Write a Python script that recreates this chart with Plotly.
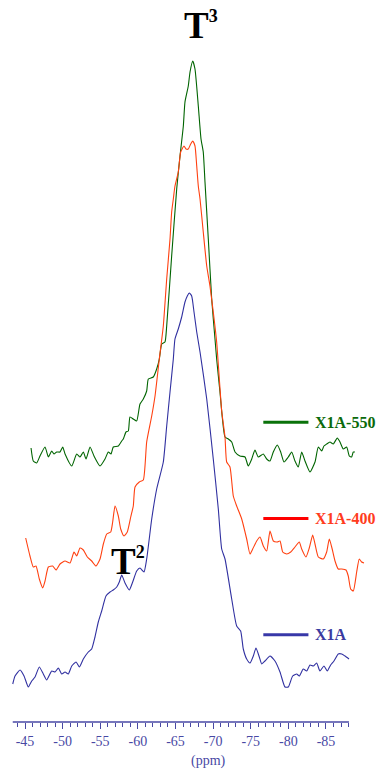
import plotly.graph_objects as go

# ---- data (chemical shift in ppm, intensity in arbitrary units) ----
ppm_550 = [-45.80, -46.10, -46.55, -46.99, -47.66, -48.10, -48.55, -48.85, -49.21, -49.65,
           -50.01, -50.32, -51.21, -51.87, -52.31, -52.75, -53.11, -53.64, -54.17, -54.97,
           -55.63, -56.07, -56.43, -56.73, -57.40, -57.85, -58.06, -58.42, -58.73, -58.95,
           -59.39, -59.84, -60.28, -60.72, -61.17, -61.39, -62.05, -62.50, -62.85, -63.17,
           -63.60, -63.83, -64.49, -65.16, -65.60, -66.04, -66.26, -66.70, -66.93, -67.29,
           -67.59, -68.03, -68.39, -68.69, -68.92, -69.36, -69.81, -70.25, -70.47, -70.91,
           -71.58, -72.02, -72.47, -72.91, -73.57, -74.24, -74.67, -75.13, -75.56, -76.00,
           -76.67, -77.12, -77.56, -78.00, -78.53, -78.98, -79.42, -79.99, -80.44, -80.88,
           -81.32, -81.77, -82.21, -82.87, -83.54, -83.98, -84.43, -84.73, -85.09, -85.53,
           -85.97, -86.50, -86.86, -87.30, -87.75, -88.10, -88.41, -88.63, -88.85]
int_550 = [4, -9, -11, -4, 5, -5, 1, -2, 0, 0,
           5, -2, -14, -2, -5, 0, -7, 5, -4, -14,
           -7, 0, -2, 5, 6, 11, 13, 20, 21, 35,
           33, 31, 48, 53, 61, 73, 75, 83, 93, 108,
           110, 126, 196, 263, 296, 326, 350, 366, 380, 391,
           383, 346, 313, 300, 270, 213, 153, 113, 93, 60,
           15, 13, 10, 0, -4, -5, -14, -7, 2, -5,
           -2, -7, -9, 0, 7, 0, -10, -5, 0, -9,
           -15, 0, -9, -20, -10, 5, 1, 6, 8, 10,
           8, 14, 10, 3, 5, -4, -5, 0, 0]

ppm_400 = [-45.09, -45.66, -46.10, -46.46, -46.90, -47.35, -47.66, -48.10, -48.68, -49.12,
           -49.65, -50.32, -50.98, -51.51, -51.87, -52.31, -52.75, -53.28, -53.86, -54.44,
           -54.97, -55.41, -55.86, -56.39, -56.65, -56.96, -57.40, -57.72, -58.16, -58.59,
           -59.05, -59.39, -59.62, -60.19, -60.72, -61.17, -61.84, -62.28, -62.85, -63.38,
           -63.83, -64.27, -64.49, -64.71, -64.93, -65.37, -65.69, -66.13, -66.40, -66.70,
           -67.02, -67.29, -67.59, -67.82, -68.03, -68.26, -68.69, -69.15, -69.58, -70.02,
           -70.47, -71.14, -71.58, -71.80, -72.24, -72.68, -73.13, -73.80, -74.46, -74.90,
           -75.26, -75.79, -76.23, -76.67, -77.12, -77.56, -78.00, -78.53, -78.89, -79.25,
           -79.78, -80.31, -80.88, -81.45, -81.77, -82.34, -82.78, -83.23, -83.54, -83.98,
           -84.64, -85.09, -85.44, -85.76, -86.20, -86.63, -87.09, -87.66, -87.96, -88.28,
           -88.63, -89.08, -89.42, -89.74, -90.05]
int_400 = [24, 6, -5, -4, -17, -26, -19, -5, -4, -8,
           -2, 1, -1, 10, 6, 14, 12, 5, 1, -4,
           3, 18, 28, 30, 40, 56, 46, 33, 26, 30,
           45, 56, 75, 80, 82, 120, 146, 166, 203, 236,
           283, 323, 350, 363, 376, 390, 410, 416, 413, 413,
           418, 421, 416, 396, 376, 363, 330, 296, 276, 250,
           220, 151, 125, 100, 95, 66, 56, 43, 23, 8,
           13, 21, 25, 16, 11, 31, 21, 20, 21, 10,
           8, 10, 15, 20, 13, 5, 14, 27, 18, 5,
           3, 10, 23, 15, 1, -7, -7, -8, -14, -27,
           -29, -10, 3, 0, -1]

ppm_x1a = [-43.37, -43.67, -44.34, -44.87, -45.44, -45.89, -46.33, -46.90, -47.43, -47.88,
           -48.55, -48.99, -49.43, -49.88, -50.32, -50.75, -51.21, -51.78, -52.22, -52.75,
           -53.41, -53.86, -54.30, -54.74, -55.19, -55.76, -56.30, -56.73, -57.19, -57.53,
           -57.85, -58.29, -58.86, -59.31, -59.84, -60.28, -60.81, -61.17, -61.84, -62.50,
           -63.38, -63.83, -64.27, -64.71, -64.93, -65.37, -65.82, -66.26, -66.57, -66.83,
           -67.15, -67.46, -67.82, -68.26, -69.15, -70.02, -70.69, -71.14, -71.58, -72.47,
           -73.13, -73.66, -74.01, -74.46, -74.90, -75.34, -75.70, -76.14, -76.46, -76.89,
           -77.56, -78.22, -78.89, -79.55, -79.99, -80.57, -81.11, -81.45, -81.98, -82.44,
           -82.87, -83.31, -83.76, -84.20, -84.73, -85.17, -85.62, -86.06, -86.63, -87.09,
           -87.52, -88.06]
int_x1a = [-2, 6, 12, 6, -5, 1, 5, 15, 8, 2,
           11, 10, 14, 8, 10, 8, 16, 20, 15, 23,
           30, 33, 45, 60, 71, 86, 90, 92, 95, 100,
           107, 99, 92, 100, 111, 114, 110, 123, 163, 193,
           220, 256, 290, 323, 343, 353, 365, 380, 386, 389,
           386, 370, 350, 330, 283, 223, 173, 133, 123, 83,
           56, 51, 33, 23, 19, 26, 34, 25, 18, 21,
           26, 21, 10, -5, -5, 6, 8, 6, 13, 11,
           17, 16, 19, 11, 16, 11, 17, 21, 28, 28,
           26, 23]

series_names = ["X1A-550", "X1A-400", "X1A"]
series_offsets = [270, 160, 40]          # vertical stacking offsets
major_ticks = [-45, -50, -55, -60, -65, -70, -75, -80, -85]
minor_ticks = list(range(-44, -89, -1))
axis_start, axis_end = -43.37, -88.05

line_colors = ["#006400", "#ff4010", "#3030a0"]
legend_line_colors = ["#0a720a", "#ff0000", "#3838a8"]
legend_text_colors = ["#0b6a0b", "#ff3c1e", "#3a3aa0"]
axis_color = "#4848a4"
serif = "Liberation Serif, Times New Roman, serif"

fig = go.Figure()
data = [(ppm_550, int_550), (ppm_400, int_400), (ppm_x1a, int_x1a)]
for (xs, ys), name, off, col in zip(data, series_names, series_offsets, line_colors):
    fig.add_trace(go.Scatter(
        x=xs, y=[v + off for v in ys], mode="lines", name=name,
        line=dict(color=col, width=1.1, shape="spline", smoothing=0.5),
        showlegend=False, hoverinfo="skip"))

# axis line only over the labelled span
fig.add_shape(type="line", xref="x", yref="paper", x0=axis_start, x1=axis_end,
              y0=0, y1=0, line=dict(color=axis_color, width=1.3))

# legend (drawn manually to match irregular spacing)
legend_y = [0.415, 0.282, 0.121]
for name, yy, lc, tc in zip(series_names, legend_y, legend_line_colors, legend_text_colors):
    fig.add_shape(type="line", xref="paper", yref="paper", x0=0.702, x1=0.828,
                  y0=yy, y1=yy, line=dict(color=lc, width=3))
    fig.add_annotation(xref="paper", yref="paper", x=0.842, y=yy, text="<b>%s</b>" % name,
                       showarrow=False, xanchor="left", yanchor="middle",
                       font=dict(family=serif, size=16, color=tc))

# peak labels
fig.add_annotation(xref="paper", yref="paper", x=0.476, y=0.996,
                   text="<b>T<sup><span style='font-size:18px'>3</span></sup></b>",
                   showarrow=False, xanchor="left", yanchor="top",
                   font=dict(family=serif, size=37, color="black"))
fig.add_annotation(xref="paper", yref="paper", x=0.270, y=0.254,
                   text="<b>T<sup><span style='font-size:18px'>2</span></sup></b>",
                   showarrow=False, xanchor="left", yanchor="top",
                   font=dict(family=serif, size=37, color="black"))

fig.add_annotation(xref="paper", yref="paper", x=0.550, y=-0.054, text="(ppm)",
                   showarrow=False, xanchor="center", yanchor="middle",
                   font=dict(family=serif, size=14, color=axis_color))

fig.update_layout(
    width=380, height=771,
    margin=dict(l=12, r=10, t=0, b=49),
    paper_bgcolor="white", plot_bgcolor="white",
    xaxis=dict(range=[-43.27, -90.85], showline=False, zeroline=False, showgrid=False,
               tickmode="array", tickvals=major_ticks, ticktext=[str(t) for t in major_ticks],
               ticks="outside", ticklen=6, tickwidth=1, tickcolor=axis_color,
               tickfont=dict(family=serif, size=14, color=axis_color),
               minor=dict(tickmode="array", tickvals=minor_ticks, ticks="outside",
                          ticklen=4, tickwidth=1, tickcolor=axis_color)),
    yaxis=dict(range=[0, 722], visible=False),
)

page_fix = ("document.body.style.margin='0';document.body.style.padding='0';"
            "document.body.style.overflow='hidden';"
            "document.documentElement.style.overflow='hidden';")
fig.write_html("out.html", post_script=page_fix, config={"displayModeBar": False})
